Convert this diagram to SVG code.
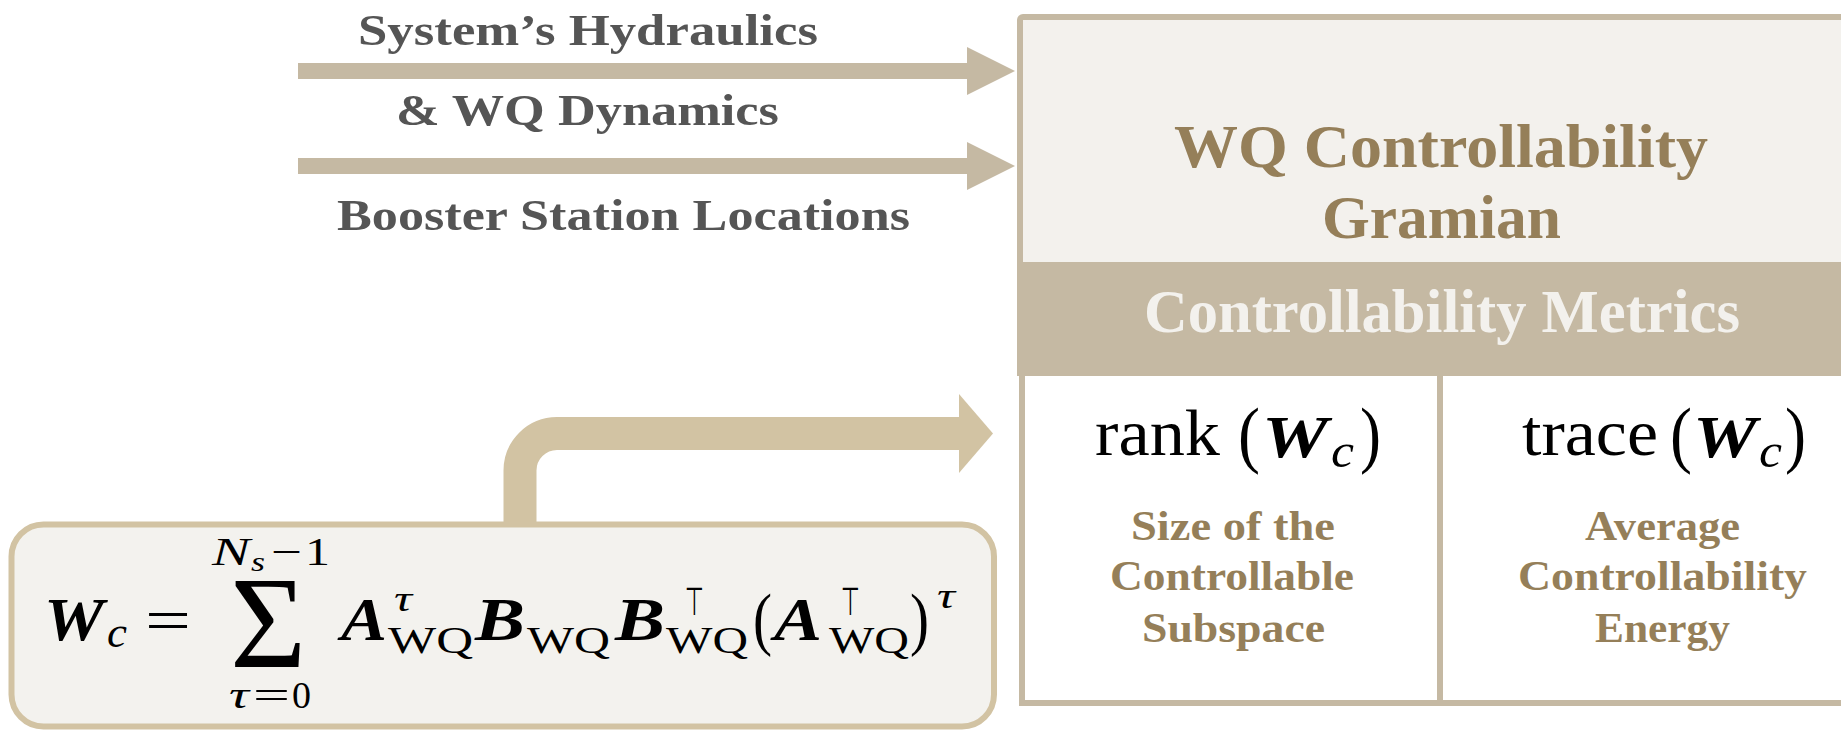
<svg xmlns="http://www.w3.org/2000/svg" width="1841" height="731" viewBox="0 0 1841 731">
<style>
.lbl{font-family:"Liberation Serif","DejaVu Serif",serif;font-weight:bold}
.gray{fill:#555555;font-size:45px}
.gold{fill:#957f59}
.title{font-size:62px}
.small{font-size:42px}
.band-text{fill:#f3f1ed;font-size:62px}
.math{font-family:"Liberation Serif","DejaVu Serif",serif;fill:#000000}
.bi{font-weight:bold;font-style:italic}
.it{font-style:italic}
.sym{font-family:"DejaVu Sans",sans-serif;fill:#000000}
.arrowA{stroke:#c5b9a3;stroke-width:16;fill:none}
.arrowB{stroke:#d2c3a3;stroke-width:33;fill:none}
.boxline{stroke:#c5b9a3;stroke-width:6}
</style>
<defs>
<marker id="headA" markerUnits="userSpaceOnUse" markerWidth="50" markerHeight="50" refX="0" refY="24" orient="auto" overflow="visible">
<path d="M0,0 L48,24 L0,48 Z" fill="#c5b9a3"/>
</marker>
<marker id="headB" markerUnits="userSpaceOnUse" markerWidth="36" markerHeight="80" refX="0" refY="39.5" orient="auto" overflow="visible">
<path d="M0,0 L34,39.5 L0,79 Z" fill="#d2c3a3"/>
</marker>
</defs>

<g id="connectors">
<line class="arrowA" x1="298" y1="71" x2="967" y2="71" marker-end="url(#headA)"/>
<line class="arrowA" x1="298" y1="166" x2="967" y2="166" marker-end="url(#headA)"/>
<path class="arrowB" d="M520,522 L520,470.5 A37,37 0 0 1 557,433.5 L959,433.5" marker-end="url(#headB)"/>
</g>

<g id="input-hydraulics">
<text class="lbl gray" x="358" y="45" textLength="460" lengthAdjust="spacingAndGlyphs">System’s Hydraulics</text>
<text class="lbl gray" x="396" y="125" textLength="383" lengthAdjust="spacingAndGlyphs">&amp; WQ Dynamics</text>
</g>

<g id="input-booster">
<text class="lbl gray" x="337" y="230" textLength="573" lengthAdjust="spacingAndGlyphs">Booster Station Locations</text>
</g>

<g id="gramian-box">
<rect x="1020" y="17" width="900" height="258" rx="3" fill="#f3f1ed" class="boxline"/>
<text class="lbl gold title" x="1174" y="167" textLength="534" lengthAdjust="spacingAndGlyphs">WQ Controllability</text>
<text class="lbl gold title" x="1322" y="238" textLength="239" lengthAdjust="spacingAndGlyphs">Gramian</text>
</g>

<g id="metric-cells">
<rect x="1022" y="373" width="900" height="330" fill="#ffffff" class="boxline"/>
<line class="boxline" x1="1440" y1="376" x2="1440" y2="703"/>
</g>

<g id="metrics-band">
<rect x="1017" y="262" width="900" height="114" fill="#c5b9a3"/>
<text class="lbl band-text" x="1144" y="332" textLength="596" lengthAdjust="spacingAndGlyphs">Controllability Metrics</text>
</g>

<g id="rank-cell">
<text class="math" x="1095" y="455" font-size="66" textLength="125" lengthAdjust="spacingAndGlyphs">rank</text>
<text class="math" x="1238" y="459" font-size="74" textLength="22" lengthAdjust="spacingAndGlyphs">(</text>
<text class="math bi" x="1262" y="457" font-size="60" textLength="66" lengthAdjust="spacingAndGlyphs">W</text>
<text class="math it" x="1331" y="467" font-size="48" textLength="23" lengthAdjust="spacingAndGlyphs">c</text>
<text class="math" x="1360" y="459" font-size="74" textLength="21" lengthAdjust="spacingAndGlyphs">)</text>
<text class="lbl gold small" x="1131" y="540" textLength="204" lengthAdjust="spacingAndGlyphs">Size of the</text>
<text class="lbl gold small" x="1110" y="590" textLength="244" lengthAdjust="spacingAndGlyphs">Controllable</text>
<text class="lbl gold small" x="1142" y="642" textLength="183" lengthAdjust="spacingAndGlyphs">Subspace</text>
</g>

<g id="trace-cell">
<text class="math" x="1522" y="455" font-size="66" textLength="136" lengthAdjust="spacingAndGlyphs">trace</text>
<text class="math" x="1670" y="459" font-size="74" textLength="22" lengthAdjust="spacingAndGlyphs">(</text>
<text class="math bi" x="1693" y="457" font-size="60" textLength="64" lengthAdjust="spacingAndGlyphs">W</text>
<text class="math it" x="1759" y="467" font-size="48" textLength="23" lengthAdjust="spacingAndGlyphs">c</text>
<text class="math" x="1785" y="459" font-size="74" textLength="21" lengthAdjust="spacingAndGlyphs">)</text>
<text class="lbl gold small" x="1585" y="540" textLength="155" lengthAdjust="spacingAndGlyphs">Average</text>
<text class="lbl gold small" x="1518" y="590" textLength="289" lengthAdjust="spacingAndGlyphs">Controllability</text>
<text class="lbl gold small" x="1595" y="642" textLength="135" lengthAdjust="spacingAndGlyphs">Energy</text>
</g>

<g id="formula-box">
<rect x="11.5" y="524.5" width="982.5" height="202" rx="32" fill="#f3f2ee" stroke="#d2c3a3" stroke-width="6"/>
<text class="math bi" x="44" y="640" font-size="62" textLength="60" lengthAdjust="spacingAndGlyphs">W</text>
<text class="math it" x="107" y="647" font-size="45">c</text>
<text class="math" x="145" y="640" font-size="60" textLength="46" lengthAdjust="spacingAndGlyphs">=</text>
<text class="math it" x="212" y="565" font-size="40" textLength="38" lengthAdjust="spacingAndGlyphs">N</text>
<text class="math it" x="251" y="571" font-size="27" textLength="14" lengthAdjust="spacingAndGlyphs">s</text>
<text class="math" x="271" y="565" font-size="40" textLength="31" lengthAdjust="spacingAndGlyphs">−</text>
<text class="math" x="305" y="565" font-size="40" textLength="25" lengthAdjust="spacingAndGlyphs">1</text>
<text class="math" x="230" y="667" font-size="131">Σ</text>
<text class="math it" x="229" y="708" font-size="38" textLength="20" lengthAdjust="spacingAndGlyphs">τ</text>
<text class="math" x="253" y="708" font-size="38" textLength="37" lengthAdjust="spacingAndGlyphs">=</text>
<text class="math" x="292" y="708" font-size="38">0</text>
<text class="math bi" x="341" y="640" font-size="62" textLength="46" lengthAdjust="spacingAndGlyphs">A</text>
<text class="math it" x="394" y="611" font-size="36" textLength="18" lengthAdjust="spacingAndGlyphs">τ</text>
<text class="math" x="388" y="653" font-size="38" textLength="85" lengthAdjust="spacingAndGlyphs">WQ</text>
<text class="math bi" x="475" y="640" font-size="62" textLength="50" lengthAdjust="spacingAndGlyphs">B</text>
<text class="math" x="527" y="653" font-size="38" textLength="83" lengthAdjust="spacingAndGlyphs">WQ</text>
<text class="math bi" x="615" y="640" font-size="62" textLength="50" lengthAdjust="spacingAndGlyphs">B</text>
<text class="sym" x="685" y="615" font-size="39" textLength="19" lengthAdjust="spacingAndGlyphs">⊤</text>
<text class="math" x="666" y="653" font-size="38" textLength="82" lengthAdjust="spacingAndGlyphs">WQ</text>
<text class="math" x="753" y="642" font-size="70" textLength="19" lengthAdjust="spacingAndGlyphs">(</text>
<text class="math bi" x="774" y="640" font-size="62" textLength="48" lengthAdjust="spacingAndGlyphs">A</text>
<text class="sym" x="841" y="615" font-size="39" textLength="19" lengthAdjust="spacingAndGlyphs">⊤</text>
<text class="math" x="829" y="653" font-size="38" textLength="80" lengthAdjust="spacingAndGlyphs">WQ</text>
<text class="math" x="910" y="642" font-size="70" textLength="19" lengthAdjust="spacingAndGlyphs">)</text>
<text class="math it" x="937" y="608" font-size="36" textLength="18" lengthAdjust="spacingAndGlyphs">τ</text>
</g>
</svg>
